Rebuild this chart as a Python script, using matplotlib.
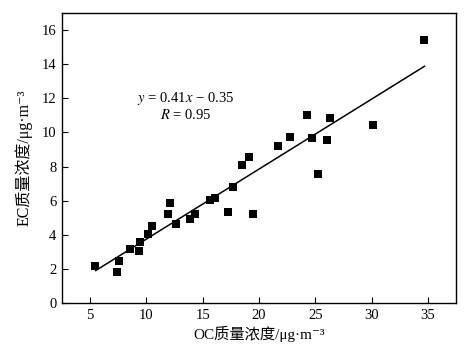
import matplotlib
matplotlib.use("Agg")
import matplotlib.pyplot as plt
import numpy as np

oc = [34.65, 24.26, 26.27, 30.11, 22.72, 24.73, 26.0, 21.71, 19.1, 18.5, 25.2,
      17.69, 15.65, 16.1, 17.25, 19.5, 12.13, 11.9, 14.35, 13.9, 12.6, 10.47,
      10.15, 9.41, 9.32, 8.58, 7.54, 7.36, 5.44]
ec = [15.44, 11.03, 10.84, 10.43, 9.71, 9.65, 9.53, 9.18, 8.54, 8.07, 7.56,
      6.80, 6.02, 6.16, 5.32, 5.2, 5.87, 5.24, 5.19, 4.93, 4.62, 4.50,
      4.07, 3.55, 3.04, 3.16, 2.49, 1.83, 2.18]
slope, intercept = 0.41, -0.35
fit_x = [5.5, 34.7]
xticks = [5, 10, 15, 20, 25, 30, 35]
yticks = [0, 2, 4, 6, 8, 10, 12, 14, 16]

fam = ['Liberation Serif', 'Noto Sans CJK SC', 'DejaVu Serif']
plt.rcParams['font.family'] = fam
plt.rcParams['mathtext.fontset'] = 'stix'

fig = plt.figure(figsize=(4.73, 3.55), dpi=100)
ax = fig.add_axes([62/473, 1-303/355, (456-62)/473, (303-13)/355])
ax.scatter(oc, ec, marker='s', s=26, color='black', zorder=3, linewidths=0)
fx = np.array(fit_x)
ax.plot(fx, slope*fx + intercept, color='black', lw=1.1)
ax.set_xlim(2.5, 37.5)
ax.set_ylim(0, 17)
ax.set_xticks(xticks)
ax.set_yticks(yticks)
ax.tick_params(direction='in', length=4, width=0.8, labelsize=10.5, pad=4)
for s in ax.spines.values():
    s.set_linewidth(1.0)
ax.text(13.5, 12.0, r'$y$ = 0.41$x$ − 0.35', ha='center', va='center', fontsize=10.5)
ax.text(13.5, 11.0, r'$R$ = 0.95', ha='center', va='center', fontsize=10.5)
ax.set_xlabel('OC质量浓度/μg·m⁻³', fontsize=11, labelpad=3)
ax.set_ylabel('EC质量浓度/μg·m⁻³', fontsize=11.5, labelpad=7)
fig.savefig('out.png', dpi=100)
